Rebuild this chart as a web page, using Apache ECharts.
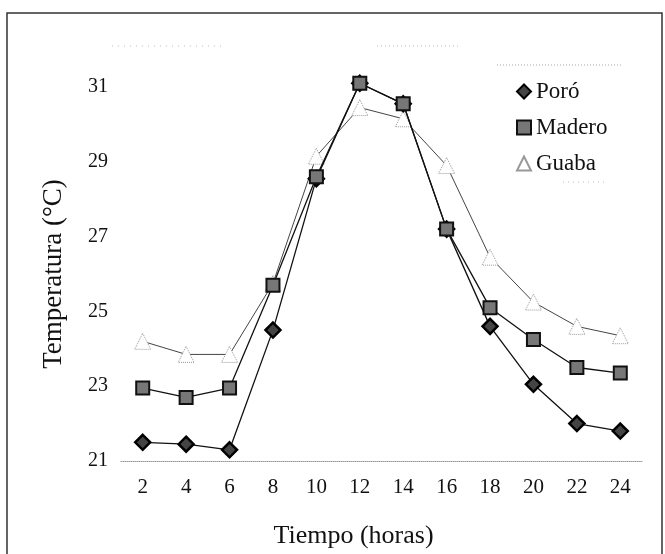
<!DOCTYPE html>
<html>
<head>
<meta charset="utf-8">
<script src="https://cdn.jsdelivr.net/npm/echarts@6/dist/echarts.min.js"></script>
<style>
  html, body { margin: 0; padding: 0; background: #fff; }
  #main { width: 665px; height: 554px; }
</style>
</head>
<body>
<div id="main"></div>
<script>
// horas
var horas = ['2', '4', '6', '8', '10', '12', '14', '16', '18', '20', '22', '24'];
// temperatura (C)
var poro   = [21.5, 21.45, 21.3, 24.5, 28.55, 31.1, 30.55, 27.2, 24.6, 23.05, 22.0, 21.8];
var madero = [22.95, 22.7, 22.95, 25.7, 28.6, 31.1, 30.55, 27.2, 25.1, 24.25, 23.5, 23.35];
var guaba  = [24.2, 23.85, 23.85, 25.75, 29.15, 30.45, 30.15, 28.9, 26.45, 25.25, 24.6, 24.35];

var serif = '"Liberation Serif", "DejaVu Serif", serif';
var dom = document.getElementById("main");
var myChart = echarts.init(dom);
var option = null;
option = {
  backgroundColor: '#fff',
  animation: false,
  textStyle: { fontFamily: serif, color: '#111' },
  grid: { left: 121, right: 23, top: 87, bottom: 86 },
  legend: {
    orient: 'vertical',
    left: 511,
    top: 75,
    itemWidth: 14,
    itemHeight: 14,
    itemGap: 13,
    textStyle: { fontFamily: serif, fontSize: 23, color: '#111' },
    data: [
      { name: 'Poró', icon: 'diamond' },
      { name: 'Madero', icon: 'rect' },
      { name: 'Guaba', icon: 'triangle' }
    ]
  },
  xAxis: {
    type: 'category',
    data: horas,
    boundaryGap: true,
    name: 'Tiempo (horas)',
    nameLocation: 'middle',
    nameGap: 62,
    nameTextStyle: { fontFamily: serif, fontSize: 26, color: '#111', padding: [0, 56, 0, 0] },
    axisTick: { show: false },
    axisLine: { lineStyle: { color: '#999', type: 'dotted', width: 1 } },
    axisLabel: { fontFamily: serif, fontSize: 21, color: '#111', margin: 16 }
  },
  yAxis: {
    type: 'value',
    min: 21,
    max: 31,
    interval: 2,
    name: 'Temperatura (°C)',
    nameLocation: 'middle',
    nameGap: 54,
    nameTextStyle: { fontFamily: serif, fontSize: 27, color: '#111' },
    axisLine: { show: false },
    axisTick: { show: false },
    splitLine: { show: false },
    axisLabel: { fontFamily: serif, fontSize: 20, color: '#111', margin: 13 }
  },
  graphic: [
    // marco de la figura
    { type: 'polyline', shape: { points: [[7, 560], [7, 13], [662, 13], [662, 560]] },
      style: { stroke: '#333', lineWidth: 1.5, fill: null } },
    // restos punteados del escaneo
    { type: 'line', shape: { x1: 112, y1: 46, x2: 225, y2: 46 }, style: { stroke: '#bbb', lineDash: [1, 5] } },
    { type: 'line', shape: { x1: 377, y1: 46, x2: 460, y2: 46 }, style: { stroke: '#bbb', lineDash: [1, 3] } },
    { type: 'line', shape: { x1: 497, y1: 65, x2: 623, y2: 65 }, style: { stroke: '#aaa', lineDash: [1, 2] } },
    { type: 'line', shape: { x1: 563, y1: 182, x2: 608, y2: 182 }, style: { stroke: '#bbb', lineDash: [1, 4] } }
  ],
  series: [
    {
      name: 'Guaba',
      type: 'line',
      data: guaba,
      clip: false,
      symbol: 'triangle',
      symbolSize: 16,
      z: 2,
      lineStyle: { color: '#444', width: 1 },
      itemStyle: { color: '#fff', borderColor: '#999', borderWidth: 1, borderType: 'dotted' }
    },
    {
      name: 'Poró',
      type: 'line',
      data: poro,
      clip: false,
      symbol: 'diamond',
      symbolSize: 15,
      z: 3,
      lineStyle: { color: '#111', width: 1.3 },
      itemStyle: { color: '#444', borderColor: '#000', borderWidth: 2.5 }
    },
    {
      name: 'Madero',
      type: 'line',
      data: madero,
      clip: false,
      symbol: 'rect',
      symbolSize: 13,
      z: 4,
      lineStyle: { color: '#111', width: 1.3 },
      itemStyle: { color: '#777', borderColor: '#111', borderWidth: 2 }
    }
  ]
};
myChart.setOption(option, true);
</script>
</body>
</html>
